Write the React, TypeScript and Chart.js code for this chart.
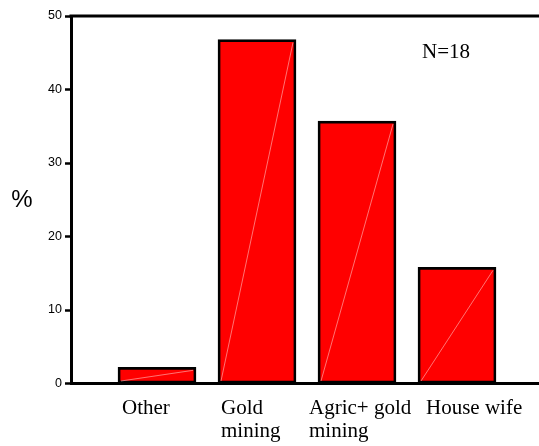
import React, { useEffect, useRef } from "react";
import { Chart, registerables } from "chart.js";

Chart.register(...registerables);

const categories: string[][] = [["Other"], ["Gold", "mining"], ["Agric+ gold", "mining"], ["House wife"]];
const percents: number[] = [2.2, 46.8, 35.7, 15.8];
const yTicks: number[] = [0, 10, 20, 30, 40, 50];
const sampleNote = "N=18";
const axisTitle = "%";

const positions = categories.map((_, i) => i + 1);
const BAR_W = 0.78;
// small horizontal nudges (in category units) for the left-aligned label blocks
const LABEL_NUDGE = [0.04, 0.03, -0.09, 0.08];

const decorPlugin = {
  id: "decor",
  afterDatasetsDraw(chart: any) {
    const ctx = chart.ctx;
    const meta = chart.getDatasetMeta(0);
    ctx.save();
    ctx.strokeStyle = "rgba(255,255,255,0.45)";
    ctx.lineWidth = 1;
    meta.data.forEach((el: any) => {
      const w = el.width;
      ctx.beginPath();
      ctx.moveTo(el.x - w / 2 + 3, el.base - 2);
      ctx.lineTo(el.x + w / 2 - 3, el.y + 3);
      ctx.stroke();
    });
    ctx.restore();
  },
  afterDraw(chart: any) {
    const ctx = chart.ctx;
    const { left, right, top } = chart.chartArea;
    ctx.save();
    ctx.strokeStyle = "#000";
    ctx.lineWidth = 3;
    ctx.beginPath();
    ctx.moveTo(left - 1.5, top);
    ctx.lineTo(right, top);
    ctx.stroke();
    ctx.fillStyle = "#000";
    ctx.font = "24px 'Liberation Sans', Arial, sans-serif";
    ctx.textAlign = "center";
    ctx.textBaseline = "middle";
    ctx.fillText(axisTitle, 22, 200);
    ctx.font = "21px 'Liberation Serif', 'Times New Roman', serif";
    ctx.textAlign = "left";
    ctx.textBaseline = "alphabetic";
    ctx.fillText(sampleNote, 422, 58);
    ctx.restore();
  },
};

export default function App() {
  const ref = useRef<HTMLCanvasElement | null>(null);
  useEffect(() => {
    if (!ref.current) return;
    const chart = new Chart(ref.current, {
      type: "bar",
      data: {
        datasets: [
          {
            data: positions.map((x, i) => ({ x, y: percents[i] })),
            backgroundColor: "#FF0000",
            borderColor: "#000000",
            borderWidth: 2.7,
            borderSkipped: false,
            barThickness: 78,
          },
        ],
      },
      options: {
        animation: false,
        responsive: true,
        maintainAspectRatio: false,
        layout: { padding: { top: 16, left: 0, right: 0, bottom: 0 } },
        plugins: { legend: { display: false }, tooltip: { enabled: false } },
        scales: {
          x: {
            type: "linear",
            offset: false,
            min: 0.14,
            max: 4.82,
            afterBuildTicks: (axis: any) => {
              axis.ticks = positions.map((p, i) => ({ value: p - BAR_W / 2 + LABEL_NUDGE[i] }));
            },
            afterFit: (axis: any) => {
              axis.height = 62.5;
            },
            grid: { display: false, drawTicks: false },
            border: { display: true, color: "#000", width: 3 },
            ticks: {
              autoSkip: false,
              maxRotation: 0,
              align: "start",
              padding: 13,
              color: "#000",
              font: { family: "'Liberation Serif', 'Times New Roman', serif", size: 21, lineHeight: 1.12 },
              callback: (_v: any, i: number) => categories[i],
            },
          },
          y: {
            min: 0,
            max: 50,
            afterBuildTicks: (axis: any) => {
              axis.ticks = yTicks.map((v) => ({ value: v }));
            },
            afterFit: (axis: any) => {
              axis.width = 71;
            },
            grid: { drawOnChartArea: false, drawTicks: true, tickLength: 6, tickWidth: 2.5, tickColor: "#000", color: "#000" },
            border: { display: true, color: "#000", width: 3 },
            ticks: {
              padding: 3,
              color: "#000",
              font: { family: "'Liberation Sans', Arial, sans-serif", size: 12.5 },
            },
          },
        },
      },
      plugins: [decorPlugin],
    } as any);
    return () => chart.destroy();
  }, []);
  return (
    <div style={{ position: "absolute", left: 0, top: 0, width: 539, height: 446, background: "#fff" }}>
      <canvas ref={ref} />
    </div>
  );
}
